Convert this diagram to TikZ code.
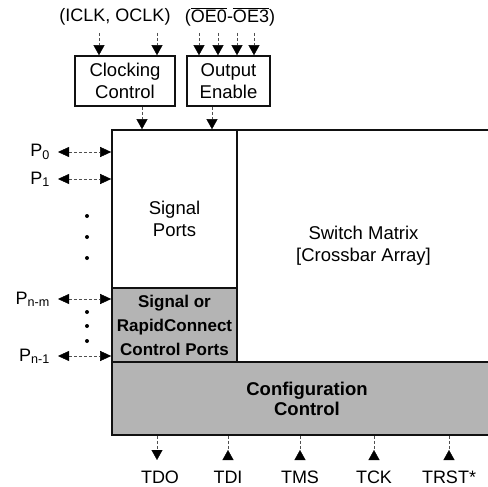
\documentclass[tikz,border=0pt]{standalone}
\usepackage{fontspec}
\setmainfont{Liberation Sans}
\usepackage{tikz}
\usetikzlibrary{arrows.meta,positioning}
\definecolor{blockline}{HTML}{111111}
\definecolor{stipple}{HTML}{B4B4B4}
\definecolor{wireline}{HTML}{505050}
\tikzset{
  blockbox/.style={
    draw=blockline,
    fill=white,
    line width=1.6pt,
    inner sep=0pt,
    align=center,
    font=\fontsize{18.5}{22}\selectfont
  },
  shadebox/.style={
    blockbox,
    fill=stipple,
    font=\fontsize{17}{24}\selectfont\bfseries
  },
  wire/.style={
    -{Triangle[length=10pt,width=11pt,color=black]},
    thin,
    densely dashed,
    draw=wireline
  },
  wireback/.style={
    -{Triangle[length=10pt,width=11pt,reversed,color=black]},
    thin,
    densely dashed,
    draw=wireline
  },
  portwire/.style={
    {Triangle[length=11pt,width=10pt,color=black]}-{Triangle[length=11pt,width=10pt,color=black]},
    thin,
    densely dashed,
    draw=wireline
  },
  pinlabel/.style={font=\fontsize{18}{20}\selectfont, inner sep=0pt}
}

\begin{document}
\begin{tikzpicture}[x=1pt,y=-1pt]
\useasboundingbox (0,0) rectangle (488,487);
\clip (0,0) rectangle (488,487);

% control blocks on top
\node[blockbox, minimum width=100pt, minimum height=50pt] (clk) at (125,81) {Clocking\\Control};
\node[blockbox, minimum width=83pt, minimum height=50pt] (oe) at (228.5,81) {Output\\Enable};

% main array
\node[blockbox, minimum width=253pt, minimum height=232pt] (sw) at (363.5,246) {Switch Matrix\\{[}Crossbar Array{]}};
\node[blockbox, minimum width=125pt, minimum height=158pt] (sig) at (174.5,209) {};
\node[pinlabel, align=center, font=\fontsize{18.5}{22}\selectfont] (siglbl) at (174.5,219) {Signal\\Ports};
\node[shadebox, minimum width=125pt, minimum height=74pt] (rc) at (174.5,325) {Signal or\\RapidConnect\\Control Ports};
\node[shadebox, minimum width=390pt, minimum height=73pt, font=\fontsize{18.5}{20}\selectfont\bfseries] (cfg) at (307,398.5) {Configuration\\Control};

% top inputs
\node[pinlabel] (clkin) at (115,17) {(ICLK, OCLK)};
\node[pinlabel] (oein) at (230,17) {($\overline{\mbox{OE0}}$-$\overline{\mbox{OE3}}$)};
\foreach \x [count=\i] in {99,157} {
  \coordinate (ck\i) at (\x,33);
  \draw[wire] (ck\i) -- (ck\i |- clk.north);
}
\foreach \x [count=\i] in {199,218,237,254} {
  \coordinate (en\i) at (\x,33);
  \draw[wire] (en\i) -- (en\i |- oe.north);
}
\draw[wire] ([xshift=17pt]clk.south) -- ([xshift=17pt]clk.south |- sig.north);
\draw[wire] ([xshift=-16.5pt]oe.south) -- ([xshift=-16.5pt]oe.south |- sig.north);

% ports on the left
\foreach \y/\name/\lab in {152/p0/P\textsubscript{0}, 179/p1/P\textsubscript{1}, 299/pnm/P\textsubscript{n-m}, 356/pn/P\textsubscript{n-1}} {
  \coordinate (\name) at (58,\y);
  \draw[portwire] (\name) -- (\name -| sig.west);
  \node[pinlabel, anchor=base east] (\name lbl) at (50,\y+5) {\lab};
}
\foreach \y in {216,237,258,312,326,341}
  \fill (87,\y) circle (2pt);

% test pins at the bottom
\coordinate (tdo) at (157,460);
\draw[wire] (tdo |- cfg.south) -- (tdo);
\node[pinlabel, anchor=base] (tdolbl) at (160,483) {TDO};
\foreach \x/\name/\lab in {228/tdi/TDI, 300/tms/TMS, 374/tck/TCK, 449/trst/TRST*} {
  \coordinate (\name) at (\x,460);
  \draw[wireback] (\name |- cfg.south) -- (\name);
  \node[pinlabel, anchor=base] (\name lbl) at (\x,483) {\lab};
}
\end{tikzpicture}
\end{document}
